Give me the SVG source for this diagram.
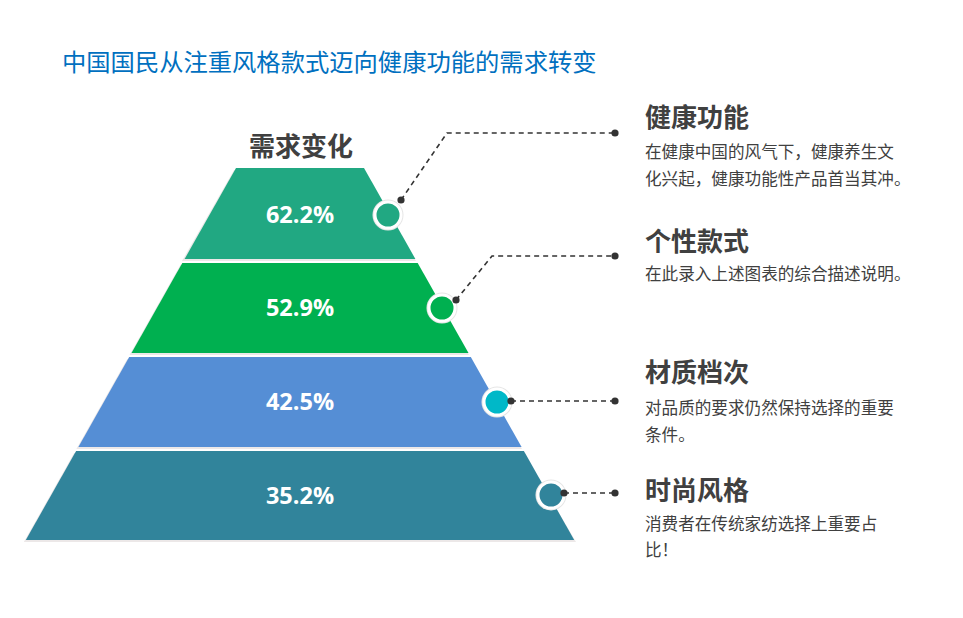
<svg xmlns="http://www.w3.org/2000/svg" width="963" height="618" viewBox="0 0 963 618">
<style>
.cjk{font-family:"Noto Sans CJK SC","Noto Sans",sans-serif}
.title{font-size:24.3px;fill:#0070c0}
.head{font-size:26px;font-weight:bold;fill:#404040}
.desc{font-size:16.6px;fill:#404040}
.pct{font-family:"Open Sans","Noto Sans",sans-serif;font-size:23.5px;font-weight:bold;fill:#ffffff;text-anchor:middle}
.shadow{fill:#ece8e8}
.conn{fill:none;stroke:#333333;stroke-width:1.6;stroke-dasharray:5 4}
.dot{fill:#333333}
.ring{fill:#e6e6e6}
.cir{stroke:#ffffff;stroke-width:3}
</style>
<rect width="963" height="618" fill="#ffffff"/>
<text class="cjk title" x="62" y="71">中国国民从注重风格款式迈向健康功能的需求转变</text>
<text id="pyramid-title" class="cjk head" x="301" y="156" text-anchor="middle">需求变化</text>

<g id="band1">
<polygon class="shadow" points="234,170 364,170 416,261 182,261"/>
<polygon fill="#21a882" points="236,168 364,168 415.4,259 184.6,259"/>
<text class="pct" x="300" y="223">62.2%</text>
</g>
<g id="band2">
<polygon class="shadow" points="180.3,265 417.7,265 469,355 129.5,355"/>
<polygon fill="#00b050" points="182.3,263 417.7,263 468.5,353 131.5,353"/>
<text class="pct" x="300" y="316">52.9%</text>
</g>
<g id="band3">
<polygon class="shadow" points="127.2,359 470.8,359 522,449 76.4,449"/>
<polygon fill="#558ed5" points="129.2,357 470.8,357 521.6,447 78.4,447"/>
<text class="pct" x="300" y="410">42.5%</text>
</g>
<g id="band4">
<polygon class="shadow" points="74.1,453 523.9,453 576,542 23.8,542"/>
<polygon fill="#31849b" points="76.1,451 523.9,451 574.2,540 25.8,540"/>
<text class="pct" x="300" y="504">35.2%</text>
</g>

<g id="connectors">
<polyline class="conn" points="401,200 447,133 615,133"/>
<polyline class="conn" points="456,300 492,256 615,256"/>
<polyline class="conn" points="511,401 615,401"/>
<polyline class="conn" points="564,493 615,493"/>
</g>

<g id="marker1">
<circle class="ring" cx="388" cy="215" r="15.5"/>
<circle class="cir" cx="388" cy="215" r="13" fill="#21a882"/>
<circle class="dot" cx="401" cy="200" r="3.6"/>
<circle class="dot" cx="615" cy="133" r="3.6"/>
</g>
<g id="marker2">
<circle class="ring" cx="442" cy="308" r="15.5"/>
<circle class="cir" cx="442" cy="308" r="13" fill="#00b050"/>
<circle class="dot" cx="456" cy="300" r="3.6"/>
<circle class="dot" cx="615" cy="256" r="3.6"/>
</g>
<g id="marker3">
<circle class="ring" cx="497" cy="402" r="15.5"/>
<circle class="cir" cx="497" cy="402" r="13" fill="#00b8c8"/>
<circle class="dot" cx="511" cy="401" r="3.6"/>
<circle class="dot" cx="615" cy="401" r="3.6"/>
</g>
<g id="marker4">
<circle class="ring" cx="551" cy="495" r="15.5"/>
<circle class="cir" cx="551" cy="495" r="13" fill="#31849b"/>
<circle class="dot" cx="564" cy="493" r="3.6"/>
<circle class="dot" cx="615" cy="493" r="3.6"/>
</g>

<g id="label1">
<text class="cjk head" x="645" y="127">健康功能</text>
<text class="cjk desc" x="645" y="157.5">在健康中国的风气下，健康养生文</text>
<text class="cjk desc" x="645" y="184.5">化兴起，健康功能性产品首当其冲。</text>
</g>
<g id="label2">
<text class="cjk head" x="645" y="251">个性款式</text>
<text class="cjk desc" x="645" y="279.5">在此录入上述图表的综合描述说明。</text>
</g>
<g id="label3">
<text class="cjk head" x="645" y="382">材质档次</text>
<text class="cjk desc" x="645" y="413.5">对品质的要求仍然保持选择的重要</text>
<text class="cjk desc" x="645" y="440.5">条件。</text>
</g>
<g id="label4">
<text class="cjk head" x="645" y="500">时尚风格</text>
<text class="cjk desc" x="645" y="529.5">消费者在传统家纺选择上重要占</text>
<text class="cjk desc" x="645" y="555.5">比！</text>
</g>
</svg>
